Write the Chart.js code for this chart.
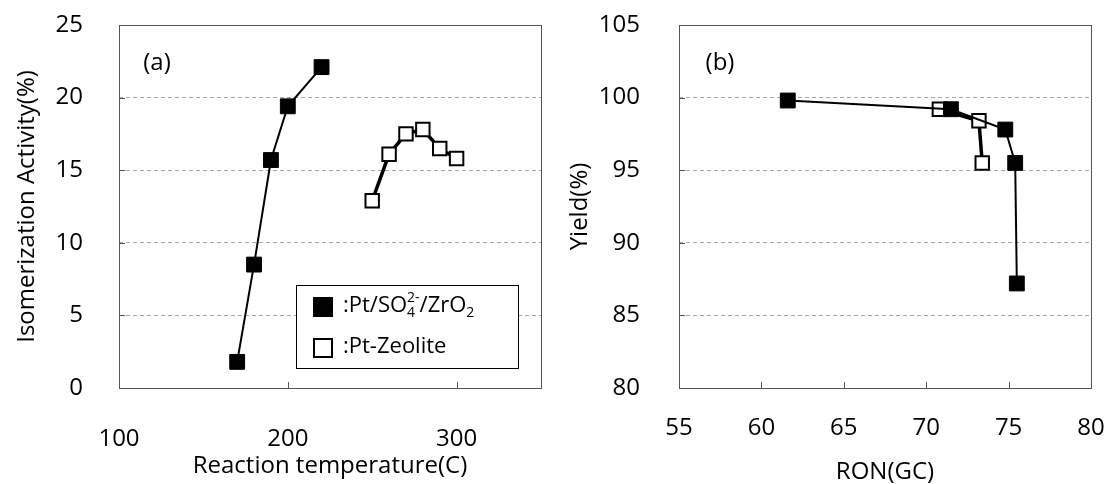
<!DOCTYPE html>
<html>
<head>
<meta charset="utf-8">
<script src="https://cdn.jsdelivr.net/npm/chart.js@4.4.0/dist/chart.umd.min.js"></script>
<style>
  body { margin: 0; background: #fff; }
  #wrap { position: relative; width: 1106px; height: 484px; }
  canvas { position: absolute; top: 0; }
</style>
</head>
<body>
<div id="wrap">
  <canvas id="chartA" width="553" height="484" style="left:0"></canvas>
  <canvas id="chartB" width="553" height="484" style="left:553px"></canvas>
</div>
<script>
// (a) isomerization activity vs reaction temperature
const tempSZ = [170, 180, 190, 200, 220];
const actSZ = [1.8, 8.5, 15.7, 19.4, 22.1];
const tempZeo = [250, 260, 270, 280, 290, 300];
const actZeo = [12.9, 16.1, 17.5, 17.8, 16.5, 15.8];
const tempTicks = [100, 200, 300];
const actTicks = [0, 5, 10, 15, 20, 25];

// (b) yield vs RON
const ronSZ = [61.6, 71.5, 74.8, 75.4, 75.5];
const yieldSZ = [99.8, 99.2, 97.8, 95.5, 87.2];
const ronZeo = [70.8, 73.2, 73.4];
const yieldZeo = [99.2, 98.4, 95.5];
const ronTicks = [55, 60, 65, 70, 75, 80];
const yieldTicks = [80, 85, 90, 95, 100, 105];

Chart.defaults.font.family = 'Open Sans';
Chart.defaults.color = '#000';

function pts(xs, ys) {
    return xs.map((x, i) => ({ x: x, y: ys[i] }));
}

function setTicks(list) {
    return scale => { scale.ticks = list.map(v => ({ value: v })); };
}

// plot frame + short inward tick marks (Excel style)
const frame = {
    id: 'frame',
    beforeDatasetsDraw(chart) {
        const { ctx, chartArea: a, scales } = chart;
        ctx.save();
        ctx.strokeStyle = '#555';
        ctx.lineWidth = 1;
        ctx.beginPath();
        scales.x.ticks.forEach(t => {
            const px = Math.round(scales.x.getPixelForValue(t.value)) + 0.5;
            ctx.moveTo(px, a.bottom);
            ctx.lineTo(px, a.bottom - 6);
        });
        scales.y.ticks.forEach(t => {
            const py = Math.round(scales.y.getPixelForValue(t.value)) + 0.5;
            ctx.moveTo(a.left, py);
            ctx.lineTo(a.left + 6, py);
        });
        ctx.stroke();
        ctx.strokeRect(Math.round(a.left) + 0.5, Math.round(a.top) + 0.5,
            Math.round(a.width), Math.round(a.height));
        ctx.restore();
    }
};

// panel letter, (a) / (b)
const panelTag = {
    id: 'panelTag',
    afterDraw(chart, args, opts) {
        const ctx = chart.ctx;
        ctx.save();
        ctx.font = '24px "Open Sans"';
        ctx.fillStyle = '#000';
        ctx.textAlign = 'center';
        ctx.textBaseline = 'middle';
        ctx.fillText(opts.text, opts.x, opts.y);
        ctx.restore();
    }
};

// legend with sub/superscripts
function drawRich(ctx, parts, x, y, size) {
    let cx = x;
    let i = 0;
    while (i < parts.length) {
        const p = parts[i];
        if (p.sub && parts[i + 1] && parts[i + 1].sup) {
            ctx.font = Math.round(size * 0.62) + 'px "Open Sans"';
            ctx.fillText(p.t, cx, y + size * 0.3);
            ctx.fillText(parts[i + 1].t, cx, y - size * 0.35);
            cx += Math.max(ctx.measureText(p.t).width, ctx.measureText(parts[i + 1].t).width);
            i += 2;
            continue;
        }
        if (p.sub) {
            ctx.font = Math.round(size * 0.62) + 'px "Open Sans"';
            ctx.fillText(p.t, cx, y + size * 0.3);
        } else {
            ctx.font = size + 'px "Open Sans"';
            ctx.fillText(p.t, cx, y);
        }
        cx += ctx.measureText(p.t).width;
        i++;
    }
}

const boxLegend = {
    id: 'boxLegend',
    afterDraw(chart) {
        const ctx = chart.ctx;
        ctx.save();
        ctx.fillStyle = '#fff';
        ctx.fillRect(296, 285, 222, 83);
        ctx.strokeStyle = '#000';
        ctx.lineWidth = 1;
        ctx.strokeRect(296.5, 285.5, 222, 83);
        // markers
        ctx.fillStyle = '#000';
        ctx.fillRect(313, 297, 20, 20);
        ctx.lineWidth = 2;
        ctx.fillStyle = '#fff';
        ctx.fillRect(314, 339, 18, 18);
        ctx.strokeRect(314, 339, 18, 18);
        ctx.fillStyle = '#000';
        ctx.textBaseline = 'middle';
        drawRich(ctx, [
            { t: ':Pt/SO' }, { t: '4', sub: true }, { t: '2-', sup: true },
            { t: '/ZrO' }, { t: '2', sub: true }
        ], 343, 306, 22);
        drawRich(ctx, [{ t: ':Pt-Zeolite' }], 343, 347, 22);
        ctx.restore();
    }
};

function seriesSZ(xs, ys) {
    return {
        data: pts(xs, ys),
        showLine: true,
        borderColor: '#000',
        borderWidth: 2,
        backgroundColor: '#000',
        pointStyle: 'rect',
        pointRadius: 10.5,
        pointBorderWidth: 1,
        pointBorderColor: '#000',
        pointBackgroundColor: '#000'
    };
}

function seriesZeo(xs, ys) {
    return {
        data: pts(xs, ys),
        showLine: true,
        borderColor: '#000',
        borderWidth: 3.5,
        pointStyle: 'rect',
        pointRadius: 9.5,
        pointBorderWidth: 2,
        pointBorderColor: '#000',
        pointBackgroundColor: '#fff'
    };
}

function axisX(min, max, ticks, title, tickPad, titlePad) {
    return {
        type: 'linear', min: min, max: max,
        afterBuildTicks: setTicks(ticks),
        afterFit: s => { s.height = 96; s.paddingLeft = 0; s.paddingRight = 0; },
        grid: { display: false },
        border: { display: false },
        ticks: { padding: tickPad, font: { size: 24 } },
        title: { display: true, text: title, font: { size: 24, lineHeight: 1 },
                 padding: { top: 0, bottom: titlePad } }
    };
}

function axisY(min, max, ticks, title, width, tickPad) {
    return {
        min: min, max: max,
        afterBuildTicks: setTicks(ticks),
        afterFit: s => { s.width = width; s.paddingTop = 0; s.paddingBottom = 0; },
        grid: { color: '#a6a6a6', drawTicks: false },
        border: { display: false, dash: [4, 3] },
        ticks: { padding: tickPad, font: { size: 24 } },
        title: { display: true, text: title, font: { size: 24, lineHeight: 1 },
                 padding: { top: 15, bottom: 0 } }
    };
}

const baseOpts = {
    responsive: false,
    animation: false,
    plugins: { legend: { display: false }, tooltip: { enabled: false } }
};

new Chart(document.getElementById('chartA'), {
    type: 'scatter',
    data: { datasets: [seriesSZ(tempSZ, actSZ), seriesZeo(tempZeo, actZeo)] },
    options: Object.assign({}, baseOpts, {
        layout: { padding: { top: 25, right: 12, left: 0, bottom: 0 } },
        scales: {
            x: axisX(100, 350, tempTicks, 'Reaction temperature(C)', 29, 6),
            y: axisY(0, 25, actTicks, 'Isomerization Activity(%)', 119, 36)
        },
        plugins: Object.assign({}, baseOpts.plugins, {
            panelTag: { text: '(a)', x: 157, y: 63 }
        })
    }),
    plugins: [frame, panelTag, boxLegend]
});

new Chart(document.getElementById('chartB'), {
    type: 'scatter',
    data: { datasets: [seriesSZ(ronSZ, yieldSZ), seriesZeo(ronZeo, yieldZeo)] },
    options: Object.assign({}, baseOpts, {
        layout: { padding: { top: 25, right: 15, left: 0, bottom: 0 } },
        scales: {
            x: axisX(55, 80, ronTicks, 'RON(GC)', 18, 0),
            y: axisY(80, 105, yieldTicks, 'Yield(%)', 126, 39)
        },
        plugins: Object.assign({}, baseOpts.plugins, {
            panelTag: { text: '(b)', x: 167, y: 63 }
        })
    }),
    plugins: [frame, panelTag]
});
</script>
</body>
</html>
